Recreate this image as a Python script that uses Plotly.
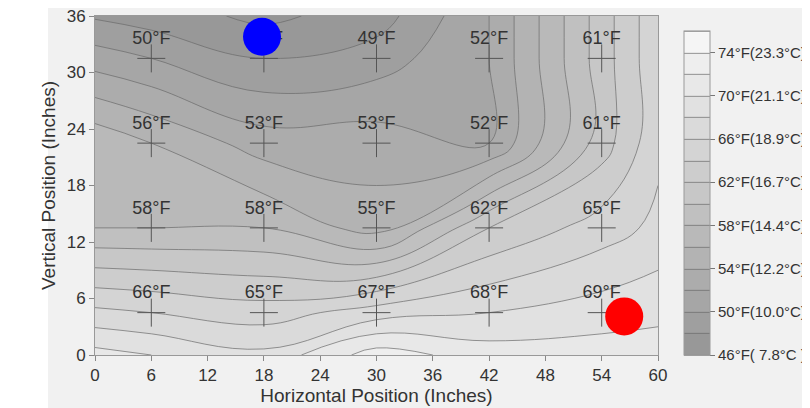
import numpy as np
import plotly.graph_objects as go

# Sensor positions (inches)
x_pos = [6, 18, 30, 42, 54]
y_pos = [4.5, 13.5, 22.5, 31.5]

# Temperature readings (°F), one list per row (bottom to top)
row_y4 = [66, 65, 67, 68, 69]
row_y13 = [58, 58, 55, 62, 65]
row_y22 = [56, 53, 53, 52, 61]
row_y31 = [50, 48, 49, 52, 61]

# Colorbar tick labels
cb_vals = [46, 50, 54, 58, 62, 66, 70, 74]
cb_text = ["46°F( 7.8°C )", "50°F(10.0°C)", "54°F(12.2°C)", "58°F(14.4°C)",
           "62°F(16.7°C)", "66°F(18.9°C)", "70°F(21.1°C)", "74°F(23.3°C)"]

# Marker spots (blue / red dots)
blue_x, blue_y = [17.8], [33.8]
red_x, red_y = [56.4], [4.1]

# ---- build grid for the contour (sensor grid extended to the box edges) ----
Z = np.array([row_y4, row_y13, row_y22, row_y31], dtype=float)
xs = np.array(x_pos, float)
ys = np.array(y_pos, float)
X_MIN, X_MAX, Y_MIN, Y_MAX = 0, 60, 0, 36
left = Z[:, 0] - (Z[:, 1] - Z[:, 0]) * (xs[0] - X_MIN) / (xs[1] - xs[0])
right = Z[:, -1] + (Z[:, -1] - Z[:, -2]) * (X_MAX - xs[-1]) / (xs[-1] - xs[-2])
Zx = np.column_stack([left, Z, right])
gx = np.concatenate([[X_MIN], xs, [X_MAX]])
bot = Zx[0] - (Zx[1] - Zx[0]) * (ys[0] - Y_MIN) / (ys[1] - ys[0])
top = Zx[-1] + (Zx[-1] - Zx[-2]) * (Y_MAX - ys[-1]) / (ys[-1] - ys[-2])
Zg = np.vstack([bot, Zx, top])
gy = np.concatenate([[Y_MIN], ys, [Y_MAX]])

colorscale = [[0, "#959595"], [1, "#f8f8f8"]]
FONT = "Liberation Sans, Arial"

fig = go.Figure()
fig.add_trace(go.Contour(
    x=gx, y=gy, z=Zg,
    zmin=46, zmax=76, zauto=False,
    autocontour=False,
    contours=dict(start=46, end=76, size=2, coloring="fill"),
    colorscale=colorscale,
    line=dict(color="#6a6a6a", width=0.7, smoothing=1.2),
    colorbar=dict(
        x=1.046, xanchor="left", xpad=0,
        y=0, yanchor="bottom", len=0.956, ypad=0,
        thickness=26, outlinecolor="#9a9a9a", outlinewidth=1,
        tickvals=cb_vals, ticktext=cb_text,
        ticks="outside", ticklen=5, tickcolor="#777777",
        tickfont=dict(size=15, color="#333333", family=FONT),
    ),
    hoverinfo="skip",
))

# crosses at sensor positions
cx = [x for _ in y_pos for x in x_pos]
cy = [y for y in y_pos for _ in x_pos]
labels = [f"{v}°F" for row in [row_y4, row_y13, row_y22, row_y31] for v in row]
fig.add_trace(go.Scatter(
    x=cx, y=cy, mode="markers",
    marker=dict(symbol="cross-thin", size=20, line=dict(color="#555555", width=1)),
    showlegend=False, hoverinfo="skip",
))
fig.add_trace(go.Scatter(
    x=cx, y=[v + 2.0 for v in cy], mode="text", text=labels,
    textfont=dict(size=18, color="#333333", family=FONT),
    showlegend=False, hoverinfo="skip",
))
fig.add_trace(go.Scatter(x=blue_x, y=blue_y, mode="markers",
                         marker=dict(size=38, color="#0000ff"),
                         showlegend=False, hoverinfo="skip", cliponaxis=False))
fig.add_trace(go.Scatter(x=red_x, y=red_y, mode="markers",
                         marker=dict(size=38, color="#ff0000"),
                         showlegend=False, hoverinfo="skip", cliponaxis=False))

axis_font = dict(size=17, color="#333333", family=FONT)
title_font = dict(size=19, color="#333333", family=FONT)
fig.update_xaxes(range=[0, 60], tickvals=list(range(0, 61, 6)), ticks="outside",
                 ticklen=5, tickcolor="#888888", showline=True, linecolor="#999999",
                 mirror=True, showgrid=False, zeroline=False, tickfont=axis_font,
                 ticklabeloverflow="allow",
                 title=dict(text="Horizontal Position (Inches)", font=title_font,
                            standoff=4))
fig.update_yaxes(range=[0, 36], tickvals=list(range(0, 37, 6)), ticks="outside",
                 ticklen=5, tickcolor="#888888", showline=True, linecolor="#999999",
                 mirror=True, showgrid=False, zeroline=False, tickfont=axis_font,
                 ticklabeloverflow="allow",
                 title=dict(text="Vertical Position (Inches)", font=title_font,
                            standoff=6))

# The page body adds an 8px offset, so the figure is 802x400 with margins reduced by 8
fig.update_layout(
    width=802, height=400,
    margin=dict(l=87, r=152, t=8, b=53, autoexpand=False),
    paper_bgcolor="white", plot_bgcolor="#bbbbbb",
    font=dict(family=FONT),
    shapes=[dict(type="rect", xref="paper", yref="paper",
                 x0=-0.0835, x1=1.3, y0=-0.2, y1=1.032,
                 fillcolor="#f1f1f1", line=dict(width=0), layer="below")],
)

fig.write_html("out.html")
